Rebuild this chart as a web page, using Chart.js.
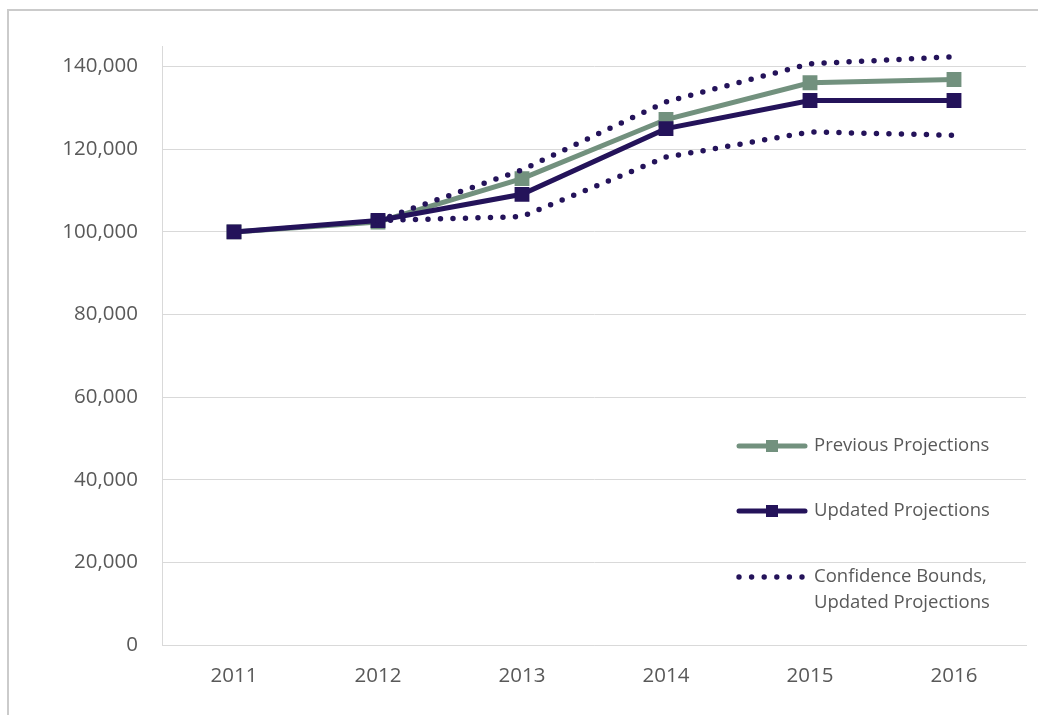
<!DOCTYPE html>
<html>
<head>
<meta charset="utf-8">
<script src="https://cdn.jsdelivr.net/npm/chart.js@4/dist/chart.umd.min.js"></script>
<style>
  html, body { margin: 0; padding: 0; background: #ffffff; }
  #wrap { position: relative; width: 1038px; height: 715px; overflow: hidden; }
  #frame { position: absolute; left: 7px; top: 9px; width: 1100px; height: 800px;
           border-left: 2px solid #cbcbcb; border-top: 2px solid #cbcbcb; box-sizing: border-box; }
  #c { position: absolute; left: 0; top: 0; }
</style>
</head>
<body>
<div id="wrap">
  <div id="frame"></div>
  <canvas id="c" width="1038" height="715"></canvas>
</div>
<script>
const years = ['2011', '2012', '2013', '2014', '2015', '2016'];
const previousProjections = [100000, 102400, 112900, 127200, 136100, 136900];
const updatedProjections  = [100000, 102750, 109100, 125000, 131800, 131800];
const upperBound = [null, 102750, 115000, 131500, 140700, 142400];
const lowerBound = [null, 102750, 103700, 118100, 124200, 123400];
const yTicks = [0, 20000, 40000, 60000, 80000, 100000, 120000, 140000];
const yMax = 145000;

const GREEN = '#72917e';
const PURPLE = '#24135a';
const TEXT = '#595959';
const GRID = '#d9d9d9';

const legendPlugin = {
  id: 'customLegend',
  afterDraw(chart) {
    const ctx = chart.ctx;
    const x0 = 737, x1 = 807, tx = 814;
    ctx.save();
    ctx.font = '18.5px "Open Sans"';
    ctx.fillStyle = TEXT;
    ctx.textBaseline = 'middle';
    ctx.textAlign = 'left';
    const items = [
      { ds: chart.data.datasets[0], y: 446 },
      { ds: chart.data.datasets[1], y: 511 },
      { ds: chart.data.datasets[2], y: 577 }
    ];
    items.forEach(it => {
      const ds = it.ds;
      if (ds.borderDash && ds.borderDash.length) {
        ctx.fillStyle = ds.borderColor;
        for (let i = 0; i < 6; i++) {
          ctx.beginPath();
          ctx.arc(x0 + 2 + i * 12.6, it.y, 2.7, 0, Math.PI * 2);
          ctx.fill();
        }
      } else {
        ctx.strokeStyle = ds.borderColor;
        ctx.lineWidth = 5;
        ctx.lineCap = 'round';
        ctx.beginPath();
        ctx.moveTo(x0 + 2, it.y);
        ctx.lineTo(x1 - 2, it.y);
        ctx.stroke();
        ctx.fillStyle = ds.pointBackgroundColor;
        ctx.fillRect((x0 + x1) / 2 - 6, it.y - 6, 12, 12);
      }
      ctx.fillStyle = TEXT;
      const lines = ds.legendText.split('\n');
      lines.forEach((ln, k) => ctx.fillText(ln, tx, it.y + k * 26));
    });
    ctx.restore();
  }
};

new Chart(document.getElementById('c'), {
  type: 'line',
  data: {
    labels: years,
    datasets: [
      {
        label: 'Previous Projections', legendText: 'Previous Projections',
        data: previousProjections, borderColor: GREEN, backgroundColor: GREEN,
        pointBackgroundColor: GREEN, pointBorderWidth: 0,
        borderWidth: 5, pointStyle: 'rect', pointRadius: 10.5, order: 3
      },
      {
        label: 'Updated Projections', legendText: 'Updated Projections',
        data: updatedProjections, borderColor: PURPLE, backgroundColor: PURPLE,
        pointBackgroundColor: PURPLE, pointBorderWidth: 0,
        borderWidth: 5, pointStyle: 'rect', pointRadius: 10.5, order: 2
      },
      {
        label: 'Confidence Bounds, Updated Projections', legendText: 'Confidence Bounds,\nUpdated Projections',
        data: upperBound, borderColor: PURPLE, backgroundColor: PURPLE,
        borderWidth: 5.5, borderDash: [0, 12.5], borderCapStyle: 'round',
        pointRadius: 0, order: 1
      },
      {
        label: 'Confidence Bounds (lower)', legendText: '',
        data: lowerBound, borderColor: PURPLE, backgroundColor: PURPLE,
        borderWidth: 5.5, borderDash: [0, 12.5], borderCapStyle: 'round',
        pointRadius: 0, order: 1
      }
    ]
  },
  options: {
    responsive: false,
    animation: false,
    events: [],
    layout: { padding: { left: 0, right: 12, top: 46, bottom: 10 } },
    plugins: { legend: { display: false }, tooltip: { enabled: false } },
    scales: {
      x: {
        offset: true,
        grid: { display: false, drawTicks: false },
        border: { display: true, color: GRID, width: 1 },
        ticks: { color: TEXT, font: { family: 'Open Sans', size: 20.5 }, padding: 19, maxRotation: 0 },
        afterFit(scale) { scale.height = 60; }
      },
      y: {
        min: 0, max: yMax,
        grid: { color: GRID, lineWidth: 1, drawTicks: false },
        border: { display: true, color: GRID, width: 1 },
        ticks: {
          color: TEXT, font: { family: 'Open Sans', size: 20.5 }, padding: 24,
          callback: v => v.toLocaleString('en-US')
        },
        afterBuildTicks(scale) { scale.ticks = yTicks.map(v => ({ value: v })); },
        afterFit(scale) { scale.width = 162; }
      }
    }
  },
  plugins: [legendPlugin]
});
</script>
</body>
</html>
